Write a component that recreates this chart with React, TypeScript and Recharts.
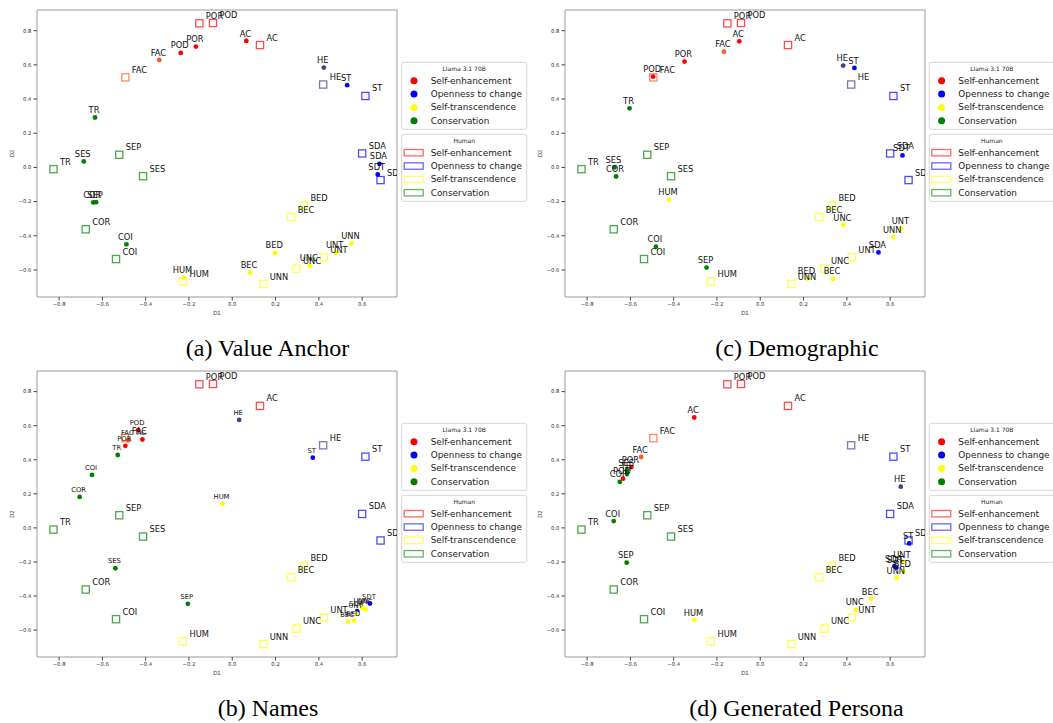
import React from 'react';
import { ScatterChart, Scatter, XAxis, YAxis, ReferenceArea } from 'recharts';

// Schwartz value codes (same order in every array)
const VALUES = ['SDT', 'SDA', 'ST', 'HE', 'AC', 'POD', 'POR', 'FAC', 'SES', 'SEP', 'TR', 'COR', 'COI', 'HUM', 'UNN', 'UNC', 'UNT', 'BEC', 'BED'];

// Human reference positions
const HUMAN_D1 = [0.685, 0.600, 0.615, 0.420, 0.128, -0.089, -0.152, -0.494, -0.412, -0.522, -0.826, -0.677, -0.537, -0.228, 0.143, 0.297, 0.423, 0.272, 0.331];
const HUMAN_D2 = [-0.074, 0.082, 0.418, 0.485, 0.716, 0.845, 0.843, 0.527, -0.051, 0.074, -0.010, -0.362, -0.536, -0.666, -0.682, -0.592, -0.526, -0.290, -0.222];

// (a) Value Anchor
const VALUE_ANCHOR_D1 = [0.672, 0.680, 0.531, 0.423, 0.065, -0.238, -0.168, -0.337, -0.686, -0.629, -0.634, -0.642, -0.489, -0.225, 0.551, 0.358, 0.478, 0.082, 0.198];
const VALUE_ANCHOR_D2 = [-0.041, 0.021, 0.481, 0.584, 0.740, 0.670, 0.707, 0.629, 0.035, -0.203, 0.292, -0.205, -0.450, -0.645, -0.444, -0.575, -0.499, -0.615, -0.500];

// (b) Names
const NAMES_D1 = [0.636, 0.577, 0.372, 0.032, -0.415, -0.435, -0.494, -0.480, -0.540, -0.205, -0.529, -0.705, -0.648, -0.045, 0.600, 0.617, 0.574, 0.535, 0.563];
const NAMES_D2 = [-0.444, -0.489, 0.412, 0.634, 0.519, 0.574, 0.482, 0.515, -0.237, -0.446, 0.428, 0.182, 0.311, 0.141, -0.470, -0.478, -0.500, -0.550, -0.545];

// (c) Demographic
const DEMOGRAPHIC_D1 = [0.657, 0.546, 0.435, 0.383, -0.097, -0.495, -0.350, -0.168, -0.674, -0.248, -0.604, -0.666, -0.482, -0.422, 0.614, 0.384, 0.652, 0.336, 0.218];
const DEMOGRAPHIC_D2 = [0.070, -0.497, 0.582, 0.596, 0.738, 0.531, 0.619, 0.677, 0.000, -0.586, 0.346, -0.053, -0.464, -0.189, -0.407, -0.337, -0.358, -0.652, -0.651];

// (d) Generated Persona
const PERSONA_D1 = [0.628, 0.620, 0.688, 0.649, -0.305, -0.634, -0.595, -0.550, -0.615, -0.617, -0.615, -0.649, -0.677, -0.304, 0.631, 0.441, 0.659, 0.512, 0.661];
const PERSONA_D2 = [-0.232, -0.225, -0.091, 0.242, 0.648, 0.289, 0.357, 0.416, 0.338, -0.204, 0.318, 0.270, 0.040, -0.541, -0.294, -0.481, -0.200, -0.417, -0.255];

const GROUPS = ['Self-enhancement', 'Openness to change', 'Self-transcendence', 'Conservation'];
const X_TICKS = [-0.8, -0.6, -0.4, -0.2, 0.0, 0.2, 0.4, 0.6];
const Y_TICKS = [-0.6, -0.4, -0.2, 0.0, 0.2, 0.4, 0.6, 0.8];
const CAPTIONS = ['(a) Value Anchor', '(b) Names', '(c) Demographic', '(d) Generated Persona'];
const LLAMA_TITLE = 'Llama 3.1 70B';
const HUMAN_TITLE = 'Human';

// styles
const GROUP_COLORS = ['#ff0000', '#0000ff', '#ffff00', '#008000'];
const VALUE_COLOR: Record<string, string> = {
  SDT: '#0000ff', SDA: '#0000ff', ST: '#0000ff', HE: '#483d8b',
  AC: '#ff0000', POD: '#ff0000', POR: '#ff0000', FAC: '#ff5a1a',
  SES: '#008000', SEP: '#008000', TR: '#008000', COR: '#008000', COI: '#008000',
  HUM: '#ffff00', UNN: '#ffff00', UNC: '#ffff00', UNT: '#ffff00', BEC: '#ffff00', BED: '#ffff00',
};
const FONT = 'DejaVu Sans';
const X_DOMAIN: [number, number] = [-0.902, 0.761];
const Y_DOMAIN: [number, number] = [-0.758, 0.921];
const HUMAN_ALPHA = 0.7;

const fmt = (v: number) => v.toFixed(1).replace('-', '\u2212');

const squareShape = (p: any) => {
  const c = VALUE_COLOR[p.payload.name];
  return (
    <rect x={p.cx - 3.6} y={p.cy - 3.6} width={7.2} height={7.2} fill="none" stroke={c} strokeOpacity={HUMAN_ALPHA} strokeWidth={1.3} />
  );
};
const dotShape = (p: any) => <circle cx={p.cx} cy={p.cy} r={2.4} fill={VALUE_COLOR[p.payload.name]} />;
const humanLabelShape = (p: any) => (
  <text x={p.cx + 6.5} y={p.cy - 4.5} fontSize={8.3} fontFamily={FONT} fill="#111">{p.payload.name}</text>
);
const makeLlamaLabel = (size: number) => (p: any) => (
  <text x={p.cx - 1} y={p.cy - 7.4 + size * 0.36} fontSize={size} fontFamily={FONT} fill="#111" textAnchor="middle">{p.payload.name}</text>
);

function Panel({ left, top, height, d1, d2, llamaLabelSize }: any) {
  const human = VALUES.map((v, i) => ({ name: v, x: HUMAN_D1[i], y: HUMAN_D2[i] }));
  const llama = VALUES.map((v, i) => ({ name: v, x: d1[i], y: d2[i] }));
  const tickStyle = { fontSize: 5.3, fill: '#333', fontFamily: FONT };
  return (
    <div style={{ position: 'absolute', left, top }}>
      <ScatterChart width={406} height={height} margin={{ top: 10, right: 9, bottom: 8, left: 0 }}>
        <ReferenceArea x1={X_DOMAIN[0]} x2={X_DOMAIN[1]} y1={Y_DOMAIN[0]} y2={Y_DOMAIN[1]} fill="none" stroke="#9a9a9a" strokeWidth={1} fillOpacity={0} ifOverflow="visible" />
        <XAxis
          type="number" dataKey="x" domain={X_DOMAIN} ticks={X_TICKS} allowDataOverflow interval={0}
          axisLine={false} tickLine={{ stroke: '#444' }} tickSize={3.5} tickMargin={2}
          tick={tickStyle} tickFormatter={fmt} height={25}
          label={{
            content: (lp: any) => {
              const vb = lp.viewBox;
              return <text x={vb.x + vb.width / 2} y={vb.y + 18} fontSize={5.5} fontFamily={FONT} fill="#333" textAnchor="middle">D1</text>;
            },
          }}
        />
        <YAxis
          type="number" dataKey="y" domain={Y_DOMAIN} ticks={Y_TICKS} allowDataOverflow interval={0}
          axisLine={false} tickLine={{ stroke: '#444' }} tickSize={3.5} tickMargin={2}
          tick={tickStyle} tickFormatter={fmt} width={37}
          label={{
            content: (lp: any) => {
              const vb = lp.viewBox;
              const cx = vb.x + 11.7;
              const cy = vb.y + vb.height / 2;
              return <text x={cx} y={cy} fontSize={5.5} fontFamily={FONT} fill="#333" textAnchor="middle" dominantBaseline="central" transform={`rotate(-90 ${cx} ${cy})`}>D2</text>;
            },
          }}
        />
        <Scatter data={human} shape={squareShape} isAnimationActive={false} />
        <Scatter data={llama} shape={dotShape} isAnimationActive={false} />
        <Scatter data={human} shape={humanLabelShape} isAnimationActive={false} />
        <Scatter data={llama} shape={makeLlamaLabel(llamaLabelSize)} isAnimationActive={false} />
      </ScatterChart>
    </div>
  );
}

function LegendBoxes({ x, y }: { x: number; y: number }) {
  const rowY = (i: number) => 18.4 + 13.35 * i;
  return (
    <g fontFamily={FONT}>
      <rect x={x} y={y} width={125} height={67} rx={2} fill="#fff" fillOpacity={0.85} stroke="#d6d6d6" strokeWidth={1} />
      <text x={x + 62.5} y={y + 6.6} fontSize={6} textAnchor="middle" dominantBaseline="central" fill="#222">{LLAMA_TITLE}</text>
      {GROUPS.map((g, i) => (
        <g key={'l' + g}>
          <circle cx={x + 12.3} cy={y + rowY(i)} r={3.5} fill={GROUP_COLORS[i]} />
          <text x={x + 29} y={y + rowY(i)} fontSize={8.9} dominantBaseline="central" fill="#222">{g}</text>
        </g>
      ))}
      <rect x={x} y={y + 72} width={125} height={67} rx={2} fill="#fff" fillOpacity={0.85} stroke="#d6d6d6" strokeWidth={1} />
      <text x={x + 62.5} y={y + 72 + 6.6} fontSize={6} textAnchor="middle" dominantBaseline="central" fill="#222">{HUMAN_TITLE}</text>
      {GROUPS.map((g, i) => (
        <g key={'h' + g}>
          <rect x={x + 2.5} y={y + 72 + rowY(i) - 3.2} width={19} height={6.4} fill="none" stroke={GROUP_COLORS[i]} strokeOpacity={0.6} strokeWidth={1.3} />
          <text x={x + 29} y={y + 72 + rowY(i)} fontSize={8.9} dominantBaseline="central" fill="#222">{g}</text>
        </g>
      ))}
    </g>
  );
}

export default function App() {
  return (
    <div style={{ position: 'absolute', left: 0, top: 0, width: 1053, height: 723, overflow: 'hidden', background: '#fff' }}>
      <Panel left={0} top={0} height={330} d1={VALUE_ANCHOR_D1} d2={VALUE_ANCHOR_D2} llamaLabelSize={8.3} />
      <Panel left={528} top={0} height={330} d1={DEMOGRAPHIC_D1} d2={DEMOGRAPHIC_D2} llamaLabelSize={8.3} />
      <Panel left={0} top={361} height={329} d1={NAMES_D1} d2={NAMES_D2} llamaLabelSize={6.8} />
      <Panel left={528} top={361} height={329} d1={PERSONA_D1} d2={PERSONA_D2} llamaLabelSize={8.3} />
      <svg width={1053} height={723} style={{ position: 'absolute', left: 0, top: 0, pointerEvents: 'none' }}>
        <LegendBoxes x={401.7} y={62.3} />
        <LegendBoxes x={929.3} y={62.3} />
        <LegendBoxes x={401.7} y={423.3} />
        <LegendBoxes x={929.3} y={423.3} />
        <g fontFamily="Liberation Serif" fontSize={24} textAnchor="middle" fill="#000">
          <text x={267.5} y={356}>{CAPTIONS[0]}</text>
          <text x={268} y={716}>{CAPTIONS[1]}</text>
          <text x={797} y={356}>{CAPTIONS[2]}</text>
          <text x={796.5} y={716}>{CAPTIONS[3]}</text>
        </g>
      </svg>
    </div>
  );
}
